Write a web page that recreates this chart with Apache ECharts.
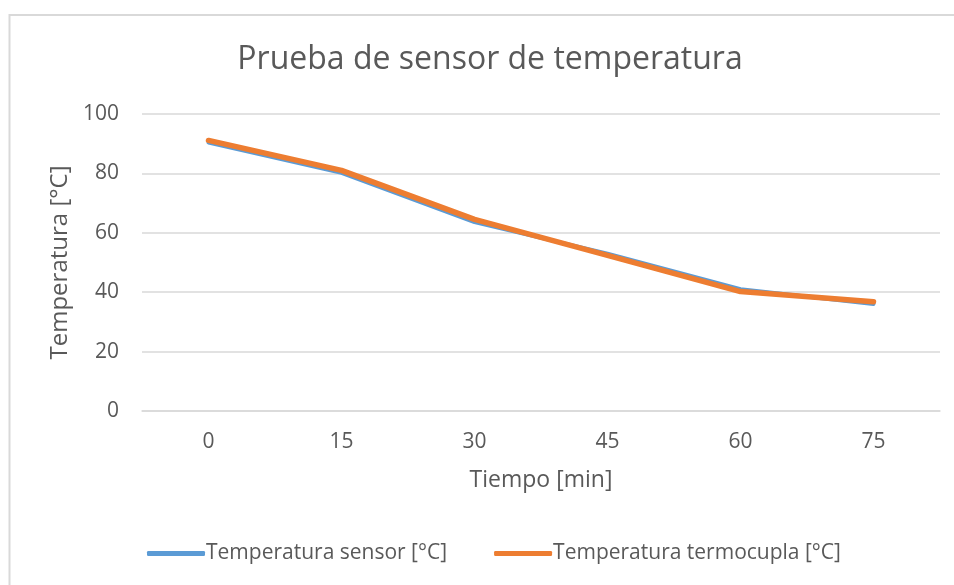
<!DOCTYPE html>
<html>
<head>
<meta charset="utf-8">
<script src="https://cdn.jsdelivr.net/npm/echarts@6/dist/echarts.min.js"></script>
<style>
html,body{margin:0;padding:0;background:#fff;}
#c{width:954px;height:585px;}
</style>
</head>
<body>
<div id="c"></div>
<script>
const categories = ['0', '15', '30', '45', '60', '75'];
const sensorValues = [90.4, 80.2, 63.6, 53.0, 41.0, 36.0];
const termocuplaValues = [91.1, 81.0, 64.5, 52.4, 40.2, 36.8];
const seriesNames = ['Temperatura sensor [°C]', 'Temperatura termocupla [°C]'];
const titleText = 'Prueba de sensor de temperatura';
const xName = 'Tiempo [min]';
const yName = 'Temperatura [°C]';

const FONT = 'Open Sans';
const TXT = '#595959';
const chart = echarts.init(document.getElementById('c'), null, {renderer: 'canvas'});
chart.setOption({
  backgroundColor: '#fff',
  animation: false,
  textStyle: {fontFamily: FONT},
  graphic: [
    {type: 'rect', shape: {x: 9.5, y: 15, width: 1000, height: 700},
     style: {fill: 'none', stroke: '#D9D9D9', lineWidth: 2}, silent: true},
    {type: 'text', x: 490, y: 60,
     style: {text: titleText, fontFamily: FONT, fontSize: 32, fill: TXT,
             textAlign: 'center', textVerticalAlign: 'middle'}}
  ],
  grid: {left: 142, right: 14, top: 114, bottom: 174, containLabel: false},
  legend: {
    left: 147, top: 543, padding: 0,
    itemWidth: 58, itemHeight: 5, itemGap: 47,
    icon: 'roundRect',
    textStyle: {fontFamily: FONT, fontSize: 21, color: TXT, padding: [0, 0, 0, -4]},
    data: seriesNames
  },
  xAxis: {
    type: 'category', data: categories, boundaryGap: true,
    name: xName, nameLocation: 'middle', nameGap: 58,
    nameTextStyle: {fontFamily: FONT, fontSize: 23, color: TXT},
    axisLine: {show: true, lineStyle: {color: '#D9D9D9', width: 1.5}},
    axisTick: {show: false},
    axisLabel: {fontFamily: FONT, fontSize: 21, color: TXT, margin: 21}
  },
  yAxis: {
    type: 'value', min: 0, max: 100, interval: 20,
    name: yName, nameLocation: 'middle', nameGap: 67, nameRotate: 90,
    nameTextStyle: {fontFamily: FONT, fontSize: 24, color: TXT},
    axisLine: {show: false}, axisTick: {show: false},
    axisLabel: {fontFamily: FONT, fontSize: 21, color: TXT, margin: 23},
    splitLine: {lineStyle: {color: '#D9D9D9', width: 1.5}}
  },
  series: [
    {name: seriesNames[0], type: 'line', data: sensorValues, symbol: 'none',
     color: '#5B9BD5', lineStyle: {width: 4, color: '#5B9BD5', cap: 'round', join: 'round'}, z: 2},
    {name: seriesNames[1], type: 'line', data: termocuplaValues, symbol: 'none',
     color: '#ED7D31', lineStyle: {width: 5.5, color: '#ED7D31', cap: 'round', join: 'round'}, z: 3}
  ]
});
</script>
</body>
</html>
